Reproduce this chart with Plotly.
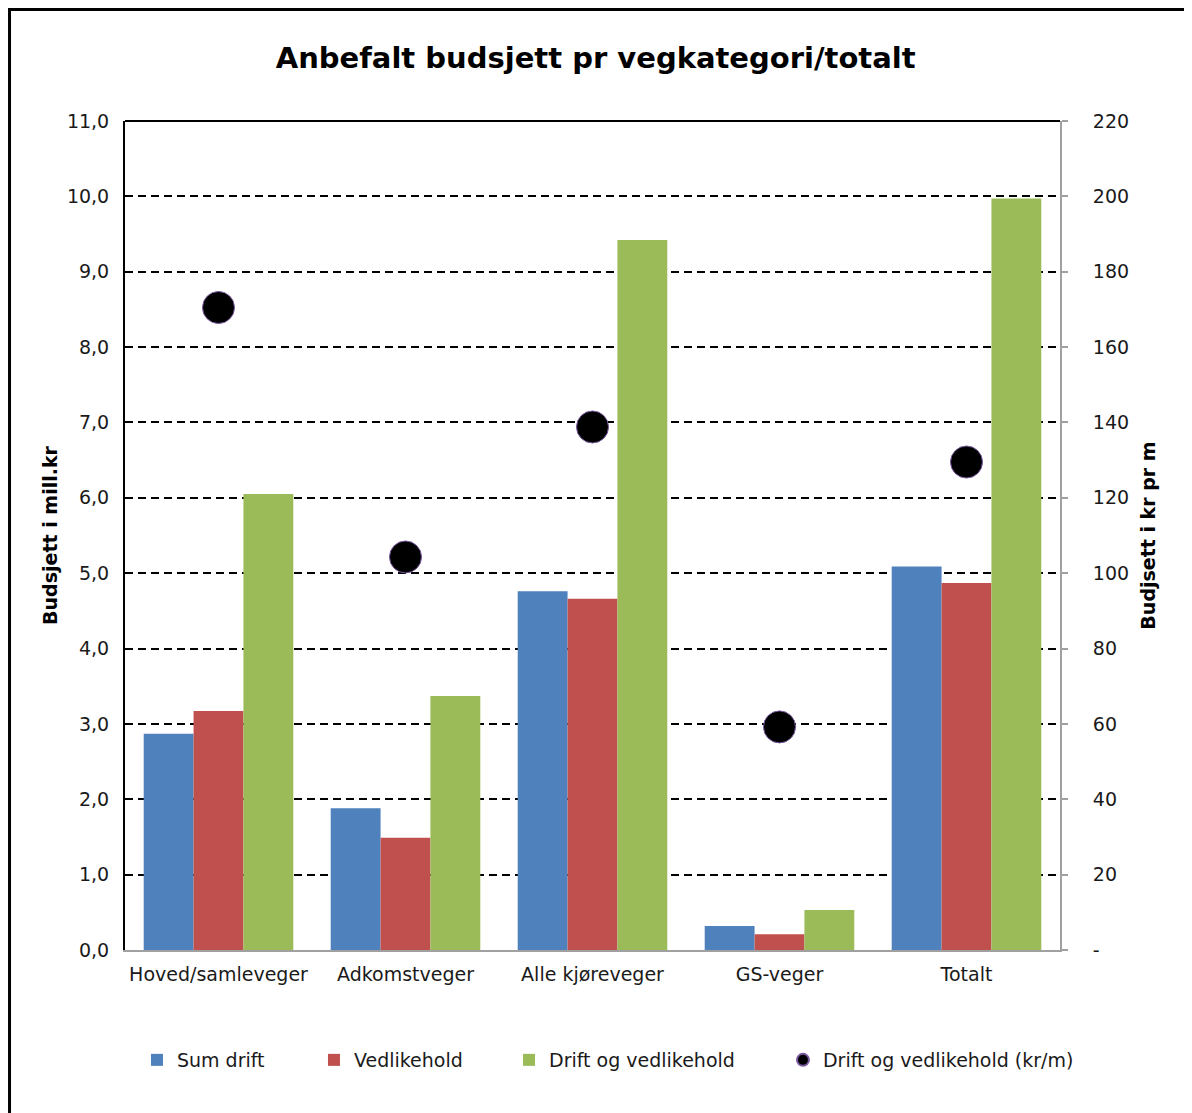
import plotly.graph_objects as go

categories = ["Hoved/samleveger", "Adkomstveger", "Alle kjøreveger", "GS-veger", "Totalt"]
sum_drift = [2.87, 1.88, 4.76, 0.32, 5.09]
vedlikehold = [3.17, 1.49, 4.66, 0.21, 4.87]
drift_og_vedlikehold = [6.05, 3.37, 9.42, 0.53, 9.97]
kr_per_m = [170.5, 104.3, 138.8, 59.2, 129.5]

left_ticks = [i for i in range(0, 12)]
right_tickvals = [i * 20 for i in range(0, 12)]
right_ticktext = ["-"] + [str(v) for v in right_tickvals[1:]]

FONT = "DejaVu Sans, Verdana, sans-serif"
LEG_Y = -0.1327
leg_common = dict(orientation="h", y=LEG_Y, yanchor="middle", xanchor="left",
                  font=dict(family=FONT, size=19, color="#1a1a1a"),
                  itemsizing="constant", bgcolor="rgba(0,0,0,0)")

fig = go.Figure()
fig.add_trace(go.Bar(x=categories, y=sum_drift, name="Sum drift", legend="legend",
                     marker=dict(color="#4f81bd", line=dict(width=0))))
fig.add_trace(go.Bar(x=categories, y=vedlikehold, name="Vedlikehold", legend="legend2",
                     marker=dict(color="#c0504d", line=dict(width=0))))
fig.add_trace(go.Bar(x=categories, y=drift_og_vedlikehold, name="Drift og vedlikehold",
                     legend="legend3",
                     marker=dict(color="#9bbb59", line=dict(width=0))))
fig.add_trace(go.Scatter(x=categories, y=kr_per_m, name="Drift og vedlikehold (kr/m)",
                         mode="markers", yaxis="y2", legend="legend4",
                         marker=dict(color="black", size=32,
                                     line=dict(color="#7a5aa0", width=1))))

fig.update_layout(
    width=1192, height=1113,
    paper_bgcolor="white", plot_bgcolor="white",
    separators=", ",
    font=dict(family=FONT, size=19, color="#1a1a1a"),
    title=dict(text="<b>Anbefalt budsjett pr vegkategori/totalt</b>",
               x=0.493, xanchor="center", y=1 - 50 / 1113, yanchor="middle",
               font=dict(family=FONT, size=29, color="black")),
    margin=dict(l=117, r=140, t=113, b=171),
    barmode="group", bargap=0.2, bargroupgap=0,
    showlegend=True,
    legend=dict(x=0.0128, **leg_common),
    legend2=dict(x=0.2021, **leg_common),
    legend3=dict(x=0.4107, **leg_common),
    legend4=dict(x=0.7037, **leg_common),
    xaxis=dict(showline=True, linecolor="#a0a0a0", linewidth=2,
               ticks="", tickfont=dict(size=19), ticklabelstandoff=6,
               showgrid=False),
    yaxis=dict(range=[0, 11], tickvals=left_ticks, tickformat=".1f",
               showline=True, linecolor="black", linewidth=2,
               showgrid=True, gridcolor="black", griddash="8px,5px", gridwidth=2,
               ticks="", ticklabelstandoff=10, zeroline=False,
               tickfont=dict(size=19),
               title=dict(text="<b>Budsjett i mill.kr</b>", standoff=4,
                          font=dict(family=FONT, size=19, color="black"))),
    yaxis2=dict(range=[0, 220], tickvals=right_tickvals, ticktext=right_ticktext,
                overlaying="y", side="right", showgrid=False, zeroline=False,
                showline=True, linecolor="#a0a0a0", linewidth=2,
                ticks="outside", ticklen=6, tickcolor="#a0a0a0", tickwidth=2,
                ticklabelstandoff=21, tickfont=dict(size=19),
                title=dict(text="<b>Budjsett i kr pr m</b>", standoff=14,
                           font=dict(family=FONT, size=19, color="black"))),
    shapes=[
        dict(type="line", xref="paper", yref="paper", x0=0, x1=1, y0=1, y1=1,
             line=dict(color="black", width=2)),
        dict(type="rect", xref="paper", yref="paper",
             x0=-0.1235, x1=1.2, y0=-0.3, y1=1.1345,
             line=dict(color="black", width=3), layer="above"),
    ],
)

fig.write_html("out.html")
